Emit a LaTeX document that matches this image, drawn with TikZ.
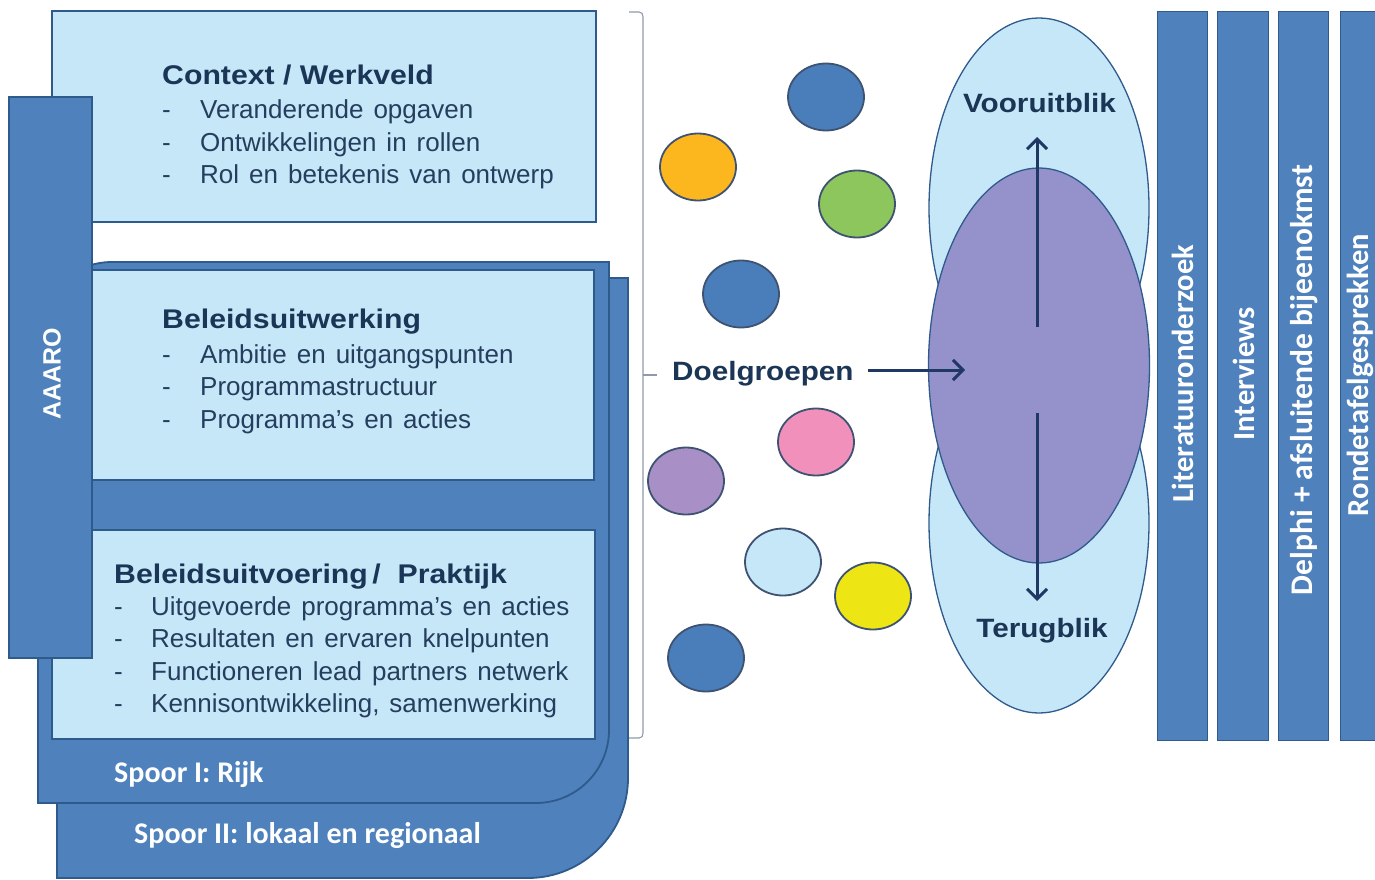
\documentclass[tikz,border=0pt]{standalone}
\usepackage{fontspec}
\setmainfont{Liberation Sans}
\newfontfamily\wsans{Liberation Sans}[FakeStretch=1.12]
\newfontfamily\carlito{Carlito}
\usetikzlibrary{shapes.geometric,arrows.meta}
\definecolor{lb}{HTML}{C6E7F7}
\definecolor{mb}{HTML}{4F81BD}
\definecolor{bd}{HTML}{2F5A8C}
\definecolor{navy}{HTML}{1B3556}
\definecolor{txt}{HTML}{253D5E}
\definecolor{arr}{HTML}{1F3864}
\definecolor{brk}{HTML}{8E9AAB}
\definecolor{cline}{HTML}{3E5272}
\definecolor{cblue}{HTML}{4A7EBB}
\definecolor{corange}{HTML}{FDB71E}
\definecolor{cgreen}{HTML}{8DC65C}
\definecolor{cpink}{HTML}{F290BC}
\definecolor{cpurple}{HTML}{A890C6}
\definecolor{cyellow}{HTML}{EEE514}
\definecolor{purp}{HTML}{9591CA}
\newlength\bulsp
\setlength\bulsp{10pt}
\newcommand\bulline[2]{\hbox{\hbox to #1{-\hfil}\spaceskip\bulsp #2}}
\begin{document}
\begin{tikzpicture}[x=1pt,y=-1pt,
  lightbox/.style={fill=lb,draw=bd,line width=1.8pt},
  spoor/.style={fill=mb,draw=bd,line width=1.8pt},
  bar/.style={fill=mb,draw=bd,line width=1pt},
  ttl/.style={anchor=base west,inner sep=0pt,text=navy,font=\wsans\fontsize{27}{30}\selectfont\bfseries},
  itm/.style={anchor=base west,inner sep=0pt,text=txt,font=\fontsize{26}{29}\selectfont},
  spoortxt/.style={anchor=base west,inner sep=0pt,text=white,font=\carlito\fontsize{30}{34}\selectfont\bfseries},
  bartxt/.style={rotate=90,inner sep=0pt,text=white,font=\carlito\fontsize{30.5}{33}\selectfont\bfseries},
  bigtxt/.style={inner sep=0pt,text=navy,font=\wsans\fontsize{26.5}{30}\selectfont\bfseries},
  dot/.style={ellipse,draw=cline,line width=1.8pt,minimum width=76pt,minimum height=67pt,inner sep=0pt},
  bigell/.style={ellipse,draw=bd,line width=1.3pt,inner sep=0pt},
  arrw/.style={draw=arr,line width=3pt,-{Straight Barb[length=10pt,width=20pt,line width=3pt]}}
]
\useasboundingbox (0,0) rectangle (1375,880);

% Spoor II (back)
\draw[spoor] (57,278) -- (628,278) -- (628,778)
  .. controls (628,833.2) and (583.2,878) .. (528,878) -- (57,878) -- cycle;
% Spoor I
\draw[spoor] (38,336) .. controls (38,295.1) and (71.1,262) .. (112,262) -- (609,262) -- (609,730)
  .. controls (609,770.3) and (576.3,803) .. (536,803) -- (38,803) -- cycle;

% light boxes
\draw[lightbox] (92,270) rectangle (594,480);
\draw[lightbox] (52,530) rectangle (595,739);
\draw[lightbox] (52,11) rectangle (596,222);

% AAARO bar
\draw[spoor] (9,97) rectangle (92,658);
\node[rotate=90,inner sep=0pt,text=white,font=\fontsize{25}{28}\selectfont\bfseries] (aaaro) at (52,374) {AAARO};

% Context box text
\node[ttl] (ctitle) at (162,85) {Context / Werkveld};
\node[itm] (c1) at (162,118.5) {\bulline{38pt}{Veranderende opgaven}};
\node[itm] (c2) at (162,151) {\bulline{38pt}{Ontwikkelingen in rollen}};
\node[itm] (c3) at (162,183.5) {\bulline{38pt}{Rol en betekenis van ontwerp}};

% Beleidsuitwerking text
\node[ttl] (wtitle) at (162,328) {Beleidsuitwerking};
\node[itm] (w1) at (162,363) {\bulline{38pt}{Ambitie en uitgangspunten}};
\node[itm] (w2) at (162,395.5) {\bulline{38pt}{Programmastructuur}};
\node[itm] (w3) at (162,428) {\bulline{38pt}{Programma's en acties}};

% Beleidsuitvoering text
\node[ttl] (vtitle) at (114,583) {Beleidsuitvoering\,/\ \ Praktijk};
\node[itm] (v1) at (114,615) {\bulline{37pt}{Uitgevoerde programma's en acties}};
\node[itm] (v2) at (114,647.5) {\bulline{37pt}{Resultaten en ervaren knelpunten}};
\node[itm] (v3) at (114,680) {\bulline{37pt}{Functioneren lead partners netwerk}};
\node[itm] (v4) at (114,712) {\bulline{37pt}{Kennisontwikkeling, samenwerking}};

% Spoor labels
\node[spoortxt] (s1) at (114,782) {Spoor I: Rijk};
\node[spoortxt] (s2) at (134,843) {Spoor II: lokaal en regionaal};

% bracket
\draw[brk,line width=1.1pt] (629,12) -- (639,12) .. controls (642,12) and (643,14) .. (643,17) -- (643,733)
  .. controls (643,736) and (642,738) .. (639,738) -- (629,738);
\draw[brk,line width=1.1pt] (643,375) -- (657,375);

% small circles
\node[dot,fill=cblue] (d1) at (826,97) {};
\node[dot,fill=corange] (d2) at (698,167) {};
\node[dot,fill=cgreen] (d3) at (857,204) {};
\node[dot,fill=cblue] (d4) at (741,294) {};
\node[dot,fill=cpink] (d5) at (816,442) {};
\node[dot,fill=cpurple] (d6) at (686,481) {};
\node[dot,fill=lb] (d7) at (783,562) {};
\node[dot,fill=cyellow] (d8) at (873,596) {};
\node[dot,fill=cblue] (d9) at (706,658) {};

% big ellipses
\node[bigell,fill=lb,minimum width=220pt,minimum height=380pt] (up) at (1039,208) {};
\node[bigell,fill=lb,minimum width=220pt,minimum height=380pt] (low) at (1039,523) {};
\node[bigell,fill=purp,minimum width=221pt,minimum height=395pt] (mid) at (1039,365.5) {};

\node[bigtxt,anchor=base] (voor) at (1039.5,113) {Vooruitblik};
\node[bigtxt,anchor=base] (terug) at (1042,637) {Terugblik};

% Doelgroepen + arrows
\node[anchor=base west,inner sep=0pt,text=navy,font=\wsans\fontsize{26.5}{30}\selectfont\bfseries] (doel) at (672,380) {Doelgroepen};
\coordinate (hin) at (965,370);
\coordinate (hs) at (868,370);
\coordinate (ups) at (1037,327);
\coordinate (upe) at (1037,137);
\coordinate (dns) at (1037,413);
\coordinate (dne) at (1037,601);
\draw[arrw] (hs) -- (hin);
\draw[arrw] (ups) -- (upe);
\draw[arrw] (dns) -- (dne);

% right bars
\draw[bar] (1157,12) rectangle (1207,740);
\draw[bar] (1217,12) rectangle (1268,740);
\draw[bar] (1278,12) rectangle (1328,740);
\draw[bar] (1340,12) rectangle (1390,740);
\node[bartxt] (b1) at (1183,374) {Literatuuronderzoek};
\node[bartxt] (b2) at (1244,374) {Interviews};
\node[bartxt,font=\carlito\fontsize{31.5}{34}\selectfont\bfseries] (b3) at (1304,380) {Delphi + afsluitende bijeenokmst};
\node[bartxt] (b4) at (1360,375) {Rondetafelgesprekken};
\end{tikzpicture}
\end{document}
